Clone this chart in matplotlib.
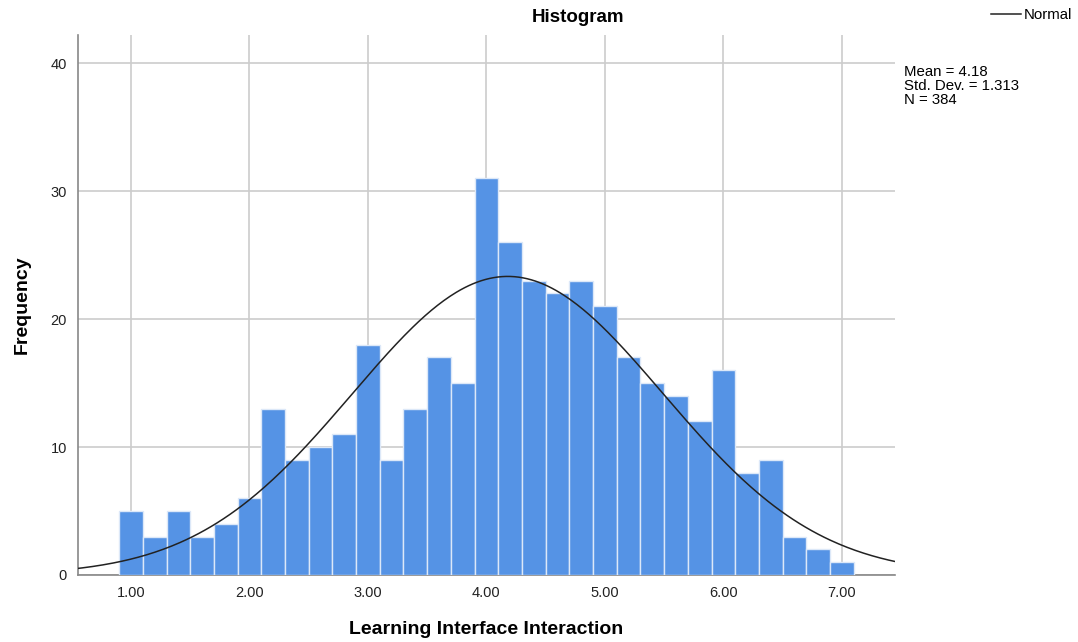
import numpy as np
import matplotlib.pyplot as plt
from matplotlib.lines import Line2D

plt.rcParams['font.family'] = ['Liberation Sans', 'DejaVu Sans']

# Bin edges (width 0.2) and counts per bin
bin_start = 0.9
bin_width = 0.2
counts = [5, 3, 5, 3, 4, 6, 13, 9, 10, 11, 18, 9, 13, 17, 15,
          31, 26, 23, 22, 23, 21, 17, 15, 14, 12, 16, 8, 9, 3, 2, 1]
mean = 4.18
std = 1.313
n = 384
xticks = [1, 2, 3, 4, 5, 6, 7]
yticks = [0, 10, 20, 30, 40]

edges = bin_start + bin_width * np.arange(len(counts) + 1)

fig = plt.figure(figsize=(10.78, 6.42), dpi=100)
ax = fig.add_axes([0.0724, 0.1044, 0.758, 0.841])

ax.bar(edges[:-1], counts, width=bin_width, align='edge',
       color='#5593e5', edgecolor='#dce8f8', linewidth=1.0, zorder=3)

# fitted normal curve scaled to counts
xs = np.linspace(0.5, 7.5, 400)
pdf = np.exp(-0.5 * ((xs - mean) / std) ** 2) / (std * np.sqrt(2 * np.pi))
ax.plot(xs, n * bin_width * pdf, color='#222222', linewidth=1.1, zorder=4)

ax.set_xlim(0.553, 7.45)
ax.set_ylim(0, 42.2)
ax.set_xticks(xticks)
ax.set_xticklabels([f'{t:.2f}' for t in xticks])
ax.set_yticks(yticks)
ax.grid(True, color='#cccccc', linewidth=1.2, zorder=0)
ax.set_axisbelow(True)
for s in ['top', 'right']:
    ax.spines[s].set_visible(False)
for s in ['left', 'bottom']:
    ax.spines[s].set_color('#888888')
    ax.spines[s].set_linewidth(1.2)
ax.tick_params(length=0, labelsize=10.5, colors='#222222', pad=8)

fig.text(578 / 1078, 1 - 18 / 642, 'Histogram', ha='center', va='center',
         fontsize=13.5, fontweight='bold')
fig.text(486 / 1078, 1 - 630 / 642, 'Learning Interface Interaction',
         ha='center', va='center', fontsize=14, fontweight='bold')
fig.text(22 / 1078, 1 - 305 / 642, 'Frequency', ha='center', va='center',
         rotation=90, fontsize=14, fontweight='bold')

fig.text(904 / 1078, 1 - 86 / 642,
         f'Mean = {mean}\nStd. Dev. = {std}\nN = {n}',
         ha='left', va='center', fontsize=10.8, linespacing=1.02)

fig.legend(handles=[Line2D([0], [0], color='#222222', linewidth=1.1)],
           labels=['Normal'], loc='center right',
           bbox_to_anchor=(1.0, 1 - 15 / 642), frameon=False,
           fontsize=10.8, handlelength=2.0, handletextpad=0.2,
           borderaxespad=0.0)

fig.savefig('out.png', dpi=100)
